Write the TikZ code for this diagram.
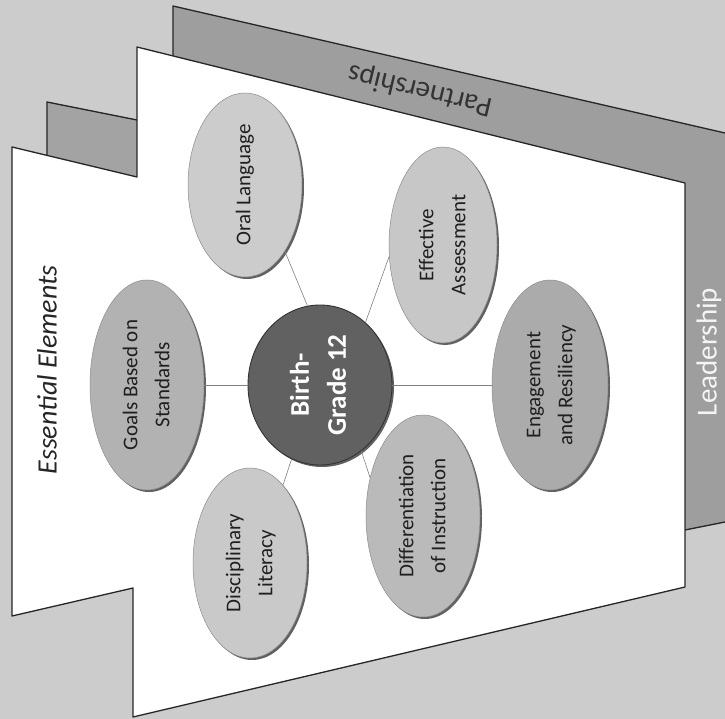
\documentclass[tikz,border=0pt]{standalone}
\usepackage{fontspec}
\setmainfont{Carlito}
\usetikzlibrary{shapes.geometric,shadows}
\definecolor{bgc}{gray}{0.80}
\definecolor{barc}{gray}{0.62}
\definecolor{boxc}{gray}{0.64}
\begin{document}
\begin{tikzpicture}[x=1pt,y=-1pt,
  ell/.style={ellipse, draw=black!45, line width=0.5pt, inner sep=0pt, text=black!88,
    font=\fontsize{21}{32}\selectfont,
    drop shadow={shadow xshift=2pt,shadow yshift=-2pt,fill=black!62,opacity=1}},
  conn/.style={draw=black!50, line width=0.6pt},
  outl/.style={draw=black!85, line width=1.3pt, line join=round}]
\useasboundingbox (0,0) rectangle (725,719);
\fill[bgc] (0,0) rectangle (725,719);
% back panels (Partnerships / Leadership)
\fill[barc] (173,6) -- (725,133) -- (725,522) -- (685,530) -- (685,183) -- (173,56) -- cycle;
\draw[outl] (173,56) -- (173,6) -- (725,133);
\draw[outl] (685,530) -- (725,522);
\fill[boxc] (47,102) -- (137,120) -- (137,177) -- (47,155) -- cycle;
\draw[outl] (47,155) -- (47,102) -- (137,120);
% front panel
\filldraw[outl, fill=white] (12,147) -- (137,177) -- (137,47) -- (685,183) -- (685,587)
  -- (133,717) -- (133,588) -- (12,616) -- cycle;
% ellipses
\node[ell, fill=black!30, minimum width=114pt, minimum height=210pt] (goals) at (147,385)
  {\rotatebox{90}{\begin{tabular}{@{}c@{}}Goals Based on\\Standards\end{tabular}}};
\node[ell, fill=black!20, minimum width=114pt, minimum height=184pt] (oral) at (245,185)
  {\rotatebox{90}{Oral Language}};
\node[ell, fill=black!22, minimum width=108pt, minimum height=196pt] (eff) at (443,245)
  {\rotatebox{90}{\begin{tabular}{@{}c@{}}Effective\\Assessment\end{tabular}}};
\node[ell, fill=black!33, minimum width=116pt, minimum height=210pt] (eng) at (550,385)
  {\rotatebox{90}{\begin{tabular}{@{}c@{}}Engagement\\and Resiliency\end{tabular}}};
\node[ell, fill=black!27, minimum width=114pt, minimum height=202pt] (diff) at (423,516)
  {\rotatebox{90}{\begin{tabular}{@{}c@{}}Differentiation\\of Instruction\end{tabular}}};
\node[ell, fill=black!21, minimum width=114pt, minimum height=190pt] (disc) at (250,563)
  {\rotatebox{90}{\begin{tabular}{@{}c@{}}Disciplinary\\Literacy\end{tabular}}};
\node[ell, fill=black!62, draw=black!80, line width=0.9pt, text=white,
  font=\bfseries\fontsize{27}{37}\selectfont,
  minimum width=144pt, minimum height=160pt] (c) at (320,385)
  {\rotatebox{90}{\begin{tabular}{@{}c@{}}Birth-\\Grade 12\end{tabular}}};
% connectors
\draw[conn] (c.west) -- (goals.east);
\draw[conn] (c.99) -- (oral.301);
\draw[conn] (c.54) -- (eff.192);
\draw[conn] (c.east) -- (eng.west);
\draw[conn] (c.302) -- (diff.144);
\draw[conn] (c.249) -- (disc.67);
% panel titles
\node[rotate=90, font=\itshape\fontsize{28}{34}\selectfont, text=black!85] (ee) at (47,370) {Essential Elements};
\node[rotate=166.5, font=\fontsize{29}{34}\selectfont, text=black!80] (pt) at (420,90) {Partnerships};
\node[rotate=90, font=\fontsize{29}{34}\selectfont, text=black!4] (ld) at (709,352) {Leadership};
\end{tikzpicture}
\end{document}
